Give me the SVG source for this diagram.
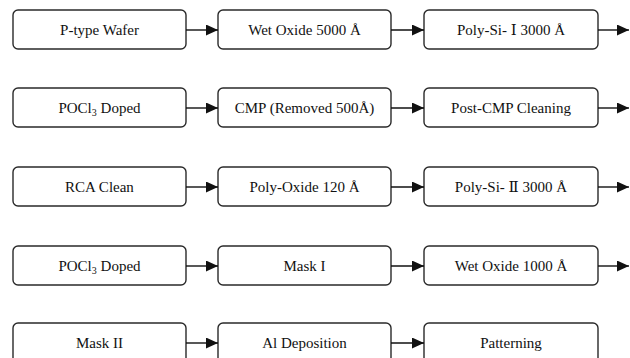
<svg xmlns="http://www.w3.org/2000/svg" width="630" height="358" viewBox="0 0 630 358">
<style>
.box{fill:#fff;stroke:#2a2a2a;stroke-width:1.4}
.t{font-family:"Liberation Serif","DejaVu Serif",serif;font-size:15px;fill:#111;text-anchor:middle}
.c{stroke:#111;stroke-width:1.4;fill:none}
.h{fill:#111}
</style>
<defs>
<marker id="ah" viewBox="0 0 12 11" refX="12" refY="5.5" markerWidth="12" markerHeight="11" markerUnits="userSpaceOnUse" orient="auto">
<path class="h" d="M0,0 L12,5.5 L0,11 Z"/>
</marker>
</defs>
<rect width="630" height="358" fill="#fff"/>
<g id="n1"><rect class="box" x="13" y="10" width="173" height="39" rx="5"/><text class="t" x="99.5" y="35">P-type Wafer</text></g>
<g id="n2"><rect class="box" x="218" y="10" width="173" height="39" rx="5"/><text class="t" x="304.5" y="35">Wet Oxide 5000 Å</text></g>
<g id="n3"><rect class="box" x="424" y="10" width="174" height="39" rx="5"/><text class="t" x="511" y="35">Poly-Si- Ⅰ 3000 Å</text></g>
<g id="n4"><rect class="box" x="13" y="88" width="173" height="39" rx="5"/><text class="t" x="99.5" y="113">POCl<tspan font-size="10" dy="3">3</tspan><tspan dy="-3"> Doped</tspan></text></g>
<g id="n5"><rect class="box" x="218" y="88" width="173" height="39" rx="5"/><text class="t" x="304.5" y="113">CMP (Removed 500Å)</text></g>
<g id="n6"><rect class="box" x="424" y="88" width="174" height="39" rx="5"/><text class="t" x="511" y="113">Post-CMP Cleaning</text></g>
<g id="n7"><rect class="box" x="13" y="167" width="173" height="39" rx="5"/><text class="t" x="99.5" y="192">RCA Clean</text></g>
<g id="n8"><rect class="box" x="218" y="167" width="173" height="39" rx="5"/><text class="t" x="304.5" y="192">Poly-Oxide 120 Å</text></g>
<g id="n9"><rect class="box" x="424" y="167" width="174" height="39" rx="5"/><text class="t" x="511" y="192">Poly-Si- Ⅱ 3000 Å</text></g>
<g id="n10"><rect class="box" x="13" y="246" width="173" height="39" rx="5"/><text class="t" x="99.5" y="271">POCl<tspan font-size="10" dy="3">3</tspan><tspan dy="-3"> Doped</tspan></text></g>
<g id="n11"><rect class="box" x="218" y="246" width="173" height="39" rx="5"/><text class="t" x="304.5" y="271">Mask I</text></g>
<g id="n12"><rect class="box" x="424" y="246" width="174" height="39" rx="5"/><text class="t" x="511" y="271">Wet Oxide 1000 Å</text></g>
<g id="n13"><rect class="box" x="13" y="323" width="173" height="40" rx="5"/><text class="t" x="99.5" y="348">Mask II</text></g>
<g id="n14"><rect class="box" x="218" y="323" width="173" height="40" rx="5"/><text class="t" x="304.5" y="348">Al Deposition</text></g>
<g id="n15"><rect class="box" x="424" y="323" width="174" height="40" rx="5"/><text class="t" x="511" y="348">Patterning</text></g>
<g id="connectors">
<line class="c" x1="186" y1="30" x2="218" y2="30" marker-end="url(#ah)"/>
<line class="c" x1="391" y1="30" x2="424" y2="30" marker-end="url(#ah)"/>
<line class="c" x1="598" y1="30" x2="629" y2="30" marker-end="url(#ah)"/>
<line class="c" x1="186" y1="108" x2="218" y2="108" marker-end="url(#ah)"/>
<line class="c" x1="391" y1="108" x2="424" y2="108" marker-end="url(#ah)"/>
<line class="c" x1="598" y1="108" x2="629" y2="108" marker-end="url(#ah)"/>
<line class="c" x1="186" y1="187" x2="218" y2="187" marker-end="url(#ah)"/>
<line class="c" x1="391" y1="187" x2="424" y2="187" marker-end="url(#ah)"/>
<line class="c" x1="598" y1="187" x2="629" y2="187" marker-end="url(#ah)"/>
<line class="c" x1="186" y1="266" x2="218" y2="266" marker-end="url(#ah)"/>
<line class="c" x1="391" y1="266" x2="424" y2="266" marker-end="url(#ah)"/>
<line class="c" x1="598" y1="266" x2="629" y2="266" marker-end="url(#ah)"/>
<line class="c" x1="186" y1="343" x2="218" y2="343" marker-end="url(#ah)"/>
<line class="c" x1="391" y1="343" x2="424" y2="343" marker-end="url(#ah)"/>
</g>
</svg>
